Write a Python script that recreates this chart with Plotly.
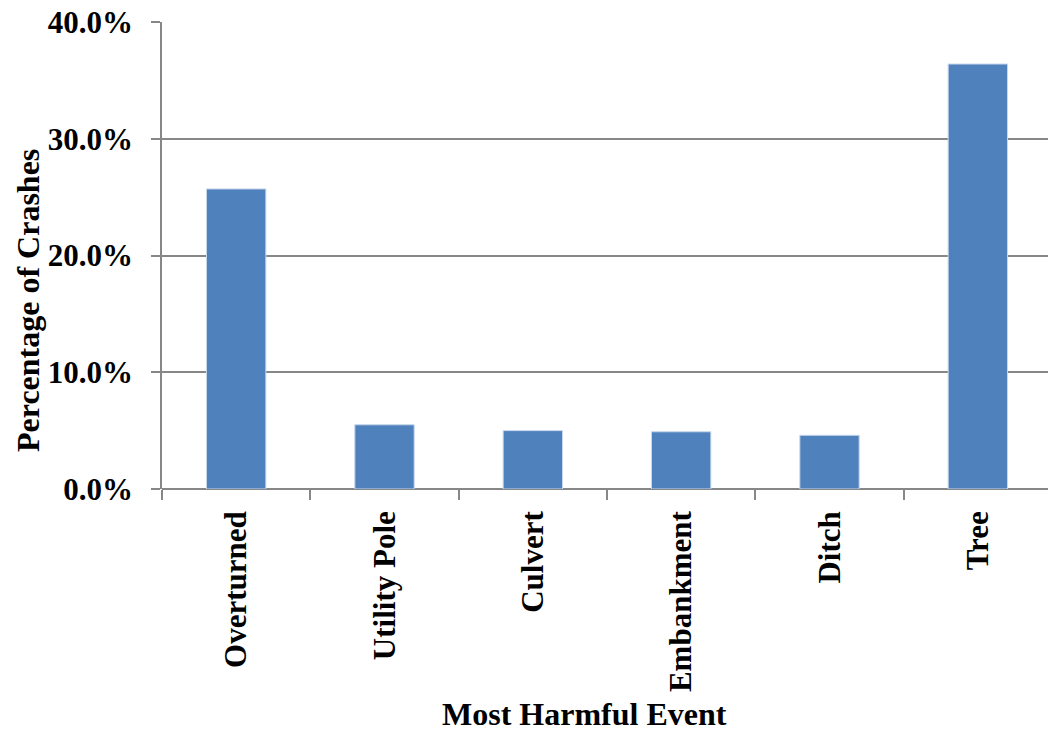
import plotly.graph_objects as go

# Share of crashes by most harmful event
events = ["Overturned", "Utility Pole", "Culvert", "Embankment", "Ditch", "Tree"]
pct_crashes = [25.7, 5.5, 5.0, 4.9, 4.6, 36.4]
y_ticks = [0, 10, 20, 30, 40]
y_tick_text = ["0.0%", "10.0%", "20.0%", "30.0%", "40.0%"]

serif = dict(family="Liberation Serif, Times New Roman, serif", color="black", weight="bold")
grid_gray = "#878787"

fig = go.Figure(
    go.Bar(
        x=events,
        y=pct_crashes,
        marker=dict(color="#4F81BD", line=dict(color="#C6D6EC", width=1)),
        width=0.4,
    )
)

fig.update_layout(
    width=1048,
    height=732,
    margin=dict(l=162, r=0, t=22, b=243),
    paper_bgcolor="white",
    plot_bgcolor="white",
    showlegend=False,
    bargap=0.6,
)

fig.update_xaxes(
    range=[-0.5, 5.473],
    showline=False,
    showgrid=False,
    ticks="outside",
    tickson="boundaries",
    ticklen=10,
    tickwidth=1.5,
    tickcolor=grid_gray,
    tickangle=-90,
    tickfont=dict(size=31, **serif),
    ticklabelstandoff=15,
)

fig.update_yaxes(
    range=[0, 40],
    tickvals=y_ticks,
    ticktext=y_tick_text,
    showgrid=True,
    gridcolor=grid_gray,
    gridwidth=1.5,
    zeroline=True,
    zerolinecolor=grid_gray,
    zerolinewidth=1.5,
    showline=True,
    linecolor=grid_gray,
    linewidth=1.5,
    ticks="outside",
    ticklen=9,
    tickwidth=1.5,
    tickcolor=grid_gray,
    tickfont=dict(size=31, **serif),
    ticklabelstandoff=12,
)

# Axis titles
fig.add_annotation(
    text="Percentage of Crashes",
    xref="paper", yref="paper",
    x=0, y=0.4026, xshift=-134,
    xanchor="center", yanchor="middle",
    textangle=-90, showarrow=False,
    font=dict(size=32, **serif),
)
fig.add_annotation(
    text="Most Harmful Event",
    xref="paper", yref="paper",
    x=0.4774, y=0, yshift=-225,
    xanchor="center", yanchor="middle",
    showarrow=False, borderpad=0,
    font=dict(size=32, **serif),
)

fig.write_html("out.html")
